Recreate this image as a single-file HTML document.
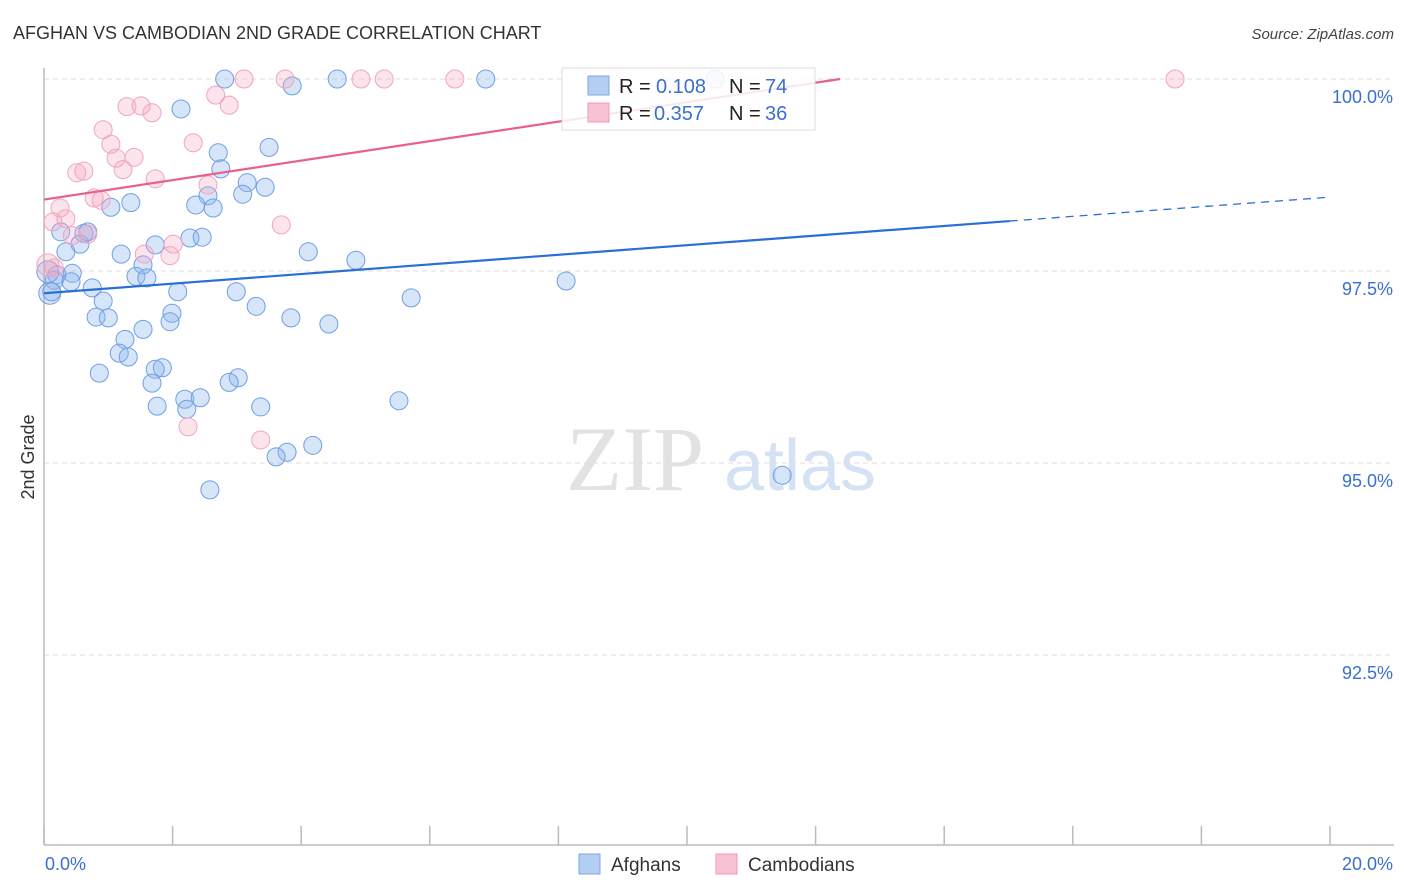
<!DOCTYPE html>
<html><head><meta charset="utf-8"><style>
body{margin:0;background:#fff;font-family:"Liberation Sans",sans-serif;}
svg{display:block}
</style></head><body>
<svg id="chart" width="1406" height="892" xmlns="http://www.w3.org/2000/svg">
<text x="13" y="39" font-size="18" fill="#333" font-family="Liberation Sans, sans-serif">AFGHAN VS CAMBODIAN 2ND GRADE CORRELATION CHART</text>
<text x="1394" y="39" font-size="15" fill="#444" font-style="italic" text-anchor="end">Source: ZipAtlas.com</text>
<g>
<text x="635" y="490" font-size="92" fill="#e2e2e2" font-family="Liberation Serif, serif" text-anchor="middle">ZIP</text>
<text x="800" y="490" font-size="72" fill="#d5e2f4" text-anchor="middle">atlas</text>
</g>
<g id="grid"></g>
<g id="axes"></g>
<g id="marks"></g>
<g id="lines"></g>
<g>
<rect x="562" y="68" width="253" height="62" fill="#fff" fill-opacity="0.85" stroke="#ddd"/>
<rect x="588" y="76" width="21" height="19" fill="#b4cdf3" stroke="#7ea6e6"/>
<rect x="588" y="103" width="21" height="19" fill="#f9c2d3" stroke="#f09ab5"/>
<text x="619" y="93" font-size="20" fill="#222">R =</text>
<text x="656" y="93" font-size="20" fill="#3a6fd0">0.108</text>
<text x="729" y="93" font-size="20" fill="#222">N =</text>
<text x="765" y="93" font-size="20" fill="#3a6fd0">74</text>
<text x="619" y="120" font-size="20" fill="#222">R =</text>
<text x="654" y="120" font-size="20" fill="#3a6fd0">0.357</text>
<text x="729" y="120" font-size="20" fill="#222">N =</text>
<text x="765" y="120" font-size="20" fill="#3a6fd0">36</text>
</g>
<g>
<rect x="579" y="854" width="21" height="20" fill="#b4cdf3" stroke="#7ea6e6"/>
<text x="611" y="871" font-size="19" fill="#333">Afghans</text>
<rect x="716" y="854" width="21" height="20" fill="#f9c2d3" stroke="#f09ab5"/>
<text x="748" y="871" font-size="19" fill="#333">Cambodians</text>
</g>
<text transform="translate(34,457) rotate(-90)" font-size="18" fill="#333" text-anchor="middle">2nd Grade</text>
</svg>
<script>
const yTicks=[100,97.5,95,92.5];
const yTickLabels=["100.0%","97.5%","95.0%","92.5%"];
const xTicks=[0,2,4,6,8,10,12,14,16,18,20];
const afghanX=[2.81,4.56,6.87,10.44,3.86,2.13,3.50,2.71,2.75,3.16,3.44,3.09,2.55,1.35,1.04,2.36,2.63,0.26,0.62,1.73,0.56,2.27,2.46,0.34,1.20,4.11,4.85,0.44,1.54,0.20,1.43,1.60,0.42,0.16,0.09,0.75,2.08,2.99,0.92,3.30,5.71,8.12,0.81,1.00,1.99,1.96,3.84,4.43,1.54,1.26,1.17,1.31,0.86,1.84,1.73,3.02,2.88,1.68,1.76,2.19,2.43,2.22,3.37,5.52,4.18,3.78,3.61,2.58,11.48,0.68,0.06,0.12];
const afghanY=[100,100,100,100,99.91,99.61,99.11,99.04,98.83,98.65,98.59,98.50,98.48,98.39,98.33,98.36,98.32,98.01,97.99,97.84,97.85,97.93,97.94,97.75,97.72,97.75,97.64,97.47,97.58,97.45,97.43,97.41,97.36,97.38,97.21,97.28,97.23,97.23,97.11,97.04,97.15,97.37,96.90,96.89,96.95,96.84,96.89,96.81,96.74,96.61,96.43,96.38,96.17,96.24,96.22,96.11,96.05,96.04,95.74,95.83,95.85,95.70,95.73,95.81,95.23,95.14,95.08,94.65,94.84,98.01,97.49,97.23];
const cambX=[3.11,3.75,4.93,5.29,6.39,17.59,2.67,2.88,1.29,1.51,1.68,0.92,1.04,2.32,1.12,1.40,1.23,1.73,0.51,0.62,2.55,0.78,0.89,0.25,3.69,0.34,0.14,2.01,1.56,1.96,0.44,0.68,2.24,3.37,0.06,0.16];
const cambY=[100,100,100,100,100,100,99.79,99.66,99.64,99.65,99.56,99.34,99.15,99.17,98.97,98.98,98.82,98.70,98.78,98.80,98.62,98.45,98.42,98.32,98.10,98.18,98.14,97.85,97.72,97.70,97.96,97.98,95.47,95.30,97.58,97.54];
const afghanTrend=[97.21,0.0626];
const cambTrend=[98.43,0.1268];
const X=v=>44+v/20*1286;
const Y=v=>79+(100-v)*76.8;
const NS="http://www.w3.org/2000/svg";
function mk(tag,attrs,parent){const e=document.createElementNS(NS,tag);for(const k in attrs)e.setAttribute(k,attrs[k]);parent.appendChild(e);return e;}
const grid=document.getElementById('grid'),axes=document.getElementById('axes'),marks=document.getElementById('marks'),lines=document.getElementById('lines');
yTicks.forEach((t,i)=>{
 const g=mk('line',{x1:44,x2:1394,y1:Y(t),y2:Y(t),stroke:'#ddd','stroke-dasharray':'5,4'},grid);
 
 
 const l=mk('text',{x:1393,y:Y(t)+24,'font-size':18,fill:'#3a6fd0','text-anchor':'end'},axes);
 l.textContent=yTickLabels[i];
 
 
});
const ax=mk('line',{x1:44,x2:1394,y1:845,y2:845,stroke:'#bbb','stroke-width':1.5},axes);


const ay=mk('line',{x1:44,x2:44,y1:68,y2:845,stroke:'#bbb','stroke-width':1.5},axes);


xTicks.forEach(t=>{
 const tk=mk('line',{x1:X(t),x2:X(t),y1:826,y2:845,stroke:'#bbb','stroke-width':1.5},axes);
 
 
});
const x0=mk('text',{x:45,y:870,'font-size':18,fill:'#3a6fd0'},axes);x0.textContent='0.0%';


const x1=mk('text',{x:1393,y:870,'font-size':18,fill:'#3a6fd0','text-anchor':'end'},axes);x1.textContent='20.0%';


function pts(xs,ys,fill,stroke,name){xs.forEach((x,i)=>{
 const big=(x<0.1);
 const c=mk('circle',{cx:X(x),cy:Y(ys[i]),r:big?11:9,fill:fill,stroke:stroke,'stroke-width':1},marks);
 
 
});}
pts(afghanX,afghanY,'rgba(140,180,238,0.35)','#6f9fe4','afghan-point');
pts(cambX,cambY,'rgba(245,165,192,0.3)','#f0a5bf','cambodian-point');
const ae=15.02;
const l1=mk('line',{x1:X(0),y1:Y(afghanTrend[0]),x2:X(ae),y2:Y(afghanTrend[0]+afghanTrend[1]*ae),stroke:'#2a6fd6','stroke-width':2.2},lines);


const l2=mk('line',{x1:X(ae),y1:Y(afghanTrend[0]+afghanTrend[1]*ae),x2:X(20),y2:Y(afghanTrend[0]+afghanTrend[1]*20),stroke:'#2a6fd6','stroke-width':1.3,'stroke-dasharray':'8,6'},lines);


const ce=(100-cambTrend[0])/cambTrend[1];
const l3=mk('line',{x1:X(0),y1:Y(cambTrend[0]),x2:X(ce),y2:Y(100),stroke:'#e8608e','stroke-width':2.2},lines);


</script>
</body></html>
